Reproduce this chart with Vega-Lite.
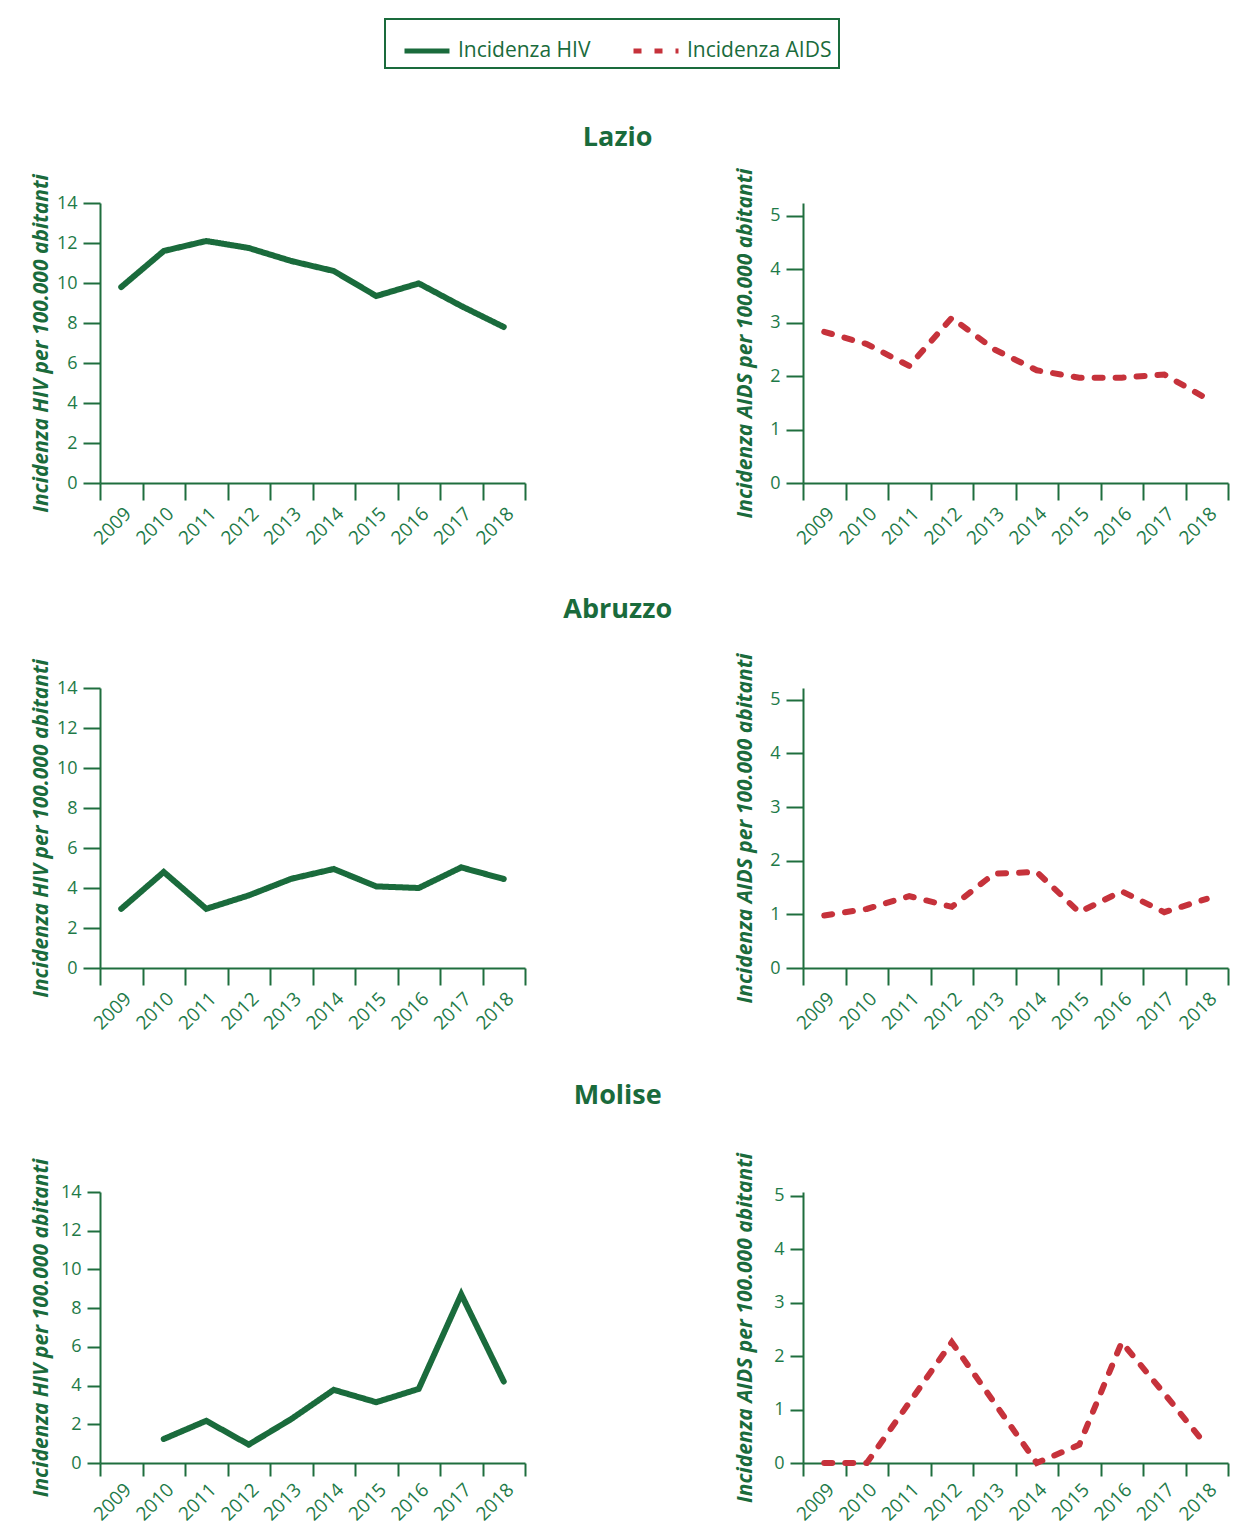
{
  "$schema": "https://vega.github.io/schema/vega-lite/v6.json",
  "background": "white",
  "padding": {"left": 30, "top": 18, "right": 10, "bottom": 4},
  "config": {
    "font": "Open Sans",
    "view": {"stroke": null},
    "axis": {
      "domainColor": "#1f6e3e",
      "domainWidth": 2,
      "tickColor": "#1f6e3e",
      "tickWidth": 2,
      "tickSize": 17,
      "labelColor": "#1e7a48",
      "labelFontSize": 18,
      "labelFont": "Open Sans",
      "titleColor": "#1a6b3c",
      "titleFont": "Open Sans",
      "titleFontSize": 21,
      "titleFontWeight": "bold",
      "titleFontStyle": "italic",
      "grid": false
    },
    "axisY": {"labelPadding": 6, "labelFontSize": 18},
    "axisX": {"labelPadding": 4, "labelFontSize": 19},
    "title": {"fontSize": 27, "fontWeight": "bold", "color": "#1a6b3c", "anchor": "middle", "font": "Open Sans", "dx": -12},
    "legend": {
      "strokeColor": "#1a6b3c",
      "strokeWidth": 2,
      "padding": 7,
      "labelFontSize": 21,
      "labelColor": "#1a6b3c",
      "labelFont": "Open Sans",
      "symbolType": "stroke",
      "symbolStrokeWidth": 5,
      "symbolSize": 2025,
      "symbolOffset": 10,
      "columnPadding": 30,
      "labelOffset": 6
    }
  },
  "data": {"values": [
    {"regione": "Lazio", "serie": "Incidenza HIV", "anno": 2009, "valore": 9.8},
    {"regione": "Lazio", "serie": "Incidenza HIV", "anno": 2010, "valore": 11.6},
    {"regione": "Lazio", "serie": "Incidenza HIV", "anno": 2011, "valore": 12.1},
    {"regione": "Lazio", "serie": "Incidenza HIV", "anno": 2012, "valore": 11.75},
    {"regione": "Lazio", "serie": "Incidenza HIV", "anno": 2013, "valore": 11.1},
    {"regione": "Lazio", "serie": "Incidenza HIV", "anno": 2014, "valore": 10.6},
    {"regione": "Lazio", "serie": "Incidenza HIV", "anno": 2015, "valore": 9.35},
    {"regione": "Lazio", "serie": "Incidenza HIV", "anno": 2016, "valore": 9.98},
    {"regione": "Lazio", "serie": "Incidenza HIV", "anno": 2017, "valore": 8.85},
    {"regione": "Lazio", "serie": "Incidenza HIV", "anno": 2018, "valore": 7.8},
    {"regione": "Lazio", "serie": "Incidenza AIDS", "anno": 2009, "valore": 2.83},
    {"regione": "Lazio", "serie": "Incidenza AIDS", "anno": 2010, "valore": 2.6},
    {"regione": "Lazio", "serie": "Incidenza AIDS", "anno": 2011, "valore": 2.19},
    {"regione": "Lazio", "serie": "Incidenza AIDS", "anno": 2012, "valore": 3.09},
    {"regione": "Lazio", "serie": "Incidenza AIDS", "anno": 2013, "valore": 2.5},
    {"regione": "Lazio", "serie": "Incidenza AIDS", "anno": 2014, "valore": 2.11},
    {"regione": "Lazio", "serie": "Incidenza AIDS", "anno": 2015, "valore": 1.97},
    {"regione": "Lazio", "serie": "Incidenza AIDS", "anno": 2016, "valore": 1.97},
    {"regione": "Lazio", "serie": "Incidenza AIDS", "anno": 2017, "valore": 2.03},
    {"regione": "Lazio", "serie": "Incidenza AIDS", "anno": 2018, "valore": 1.58},
    {"regione": "Abruzzo", "serie": "Incidenza HIV", "anno": 2009, "valore": 2.96},
    {"regione": "Abruzzo", "serie": "Incidenza HIV", "anno": 2010, "valore": 4.8},
    {"regione": "Abruzzo", "serie": "Incidenza HIV", "anno": 2011, "valore": 2.96},
    {"regione": "Abruzzo", "serie": "Incidenza HIV", "anno": 2012, "valore": 3.63},
    {"regione": "Abruzzo", "serie": "Incidenza HIV", "anno": 2013, "valore": 4.46},
    {"regione": "Abruzzo", "serie": "Incidenza HIV", "anno": 2014, "valore": 4.95},
    {"regione": "Abruzzo", "serie": "Incidenza HIV", "anno": 2015, "valore": 4.08},
    {"regione": "Abruzzo", "serie": "Incidenza HIV", "anno": 2016, "valore": 4.0},
    {"regione": "Abruzzo", "serie": "Incidenza HIV", "anno": 2017, "valore": 5.03},
    {"regione": "Abruzzo", "serie": "Incidenza HIV", "anno": 2018, "valore": 4.45},
    {"regione": "Abruzzo", "serie": "Incidenza AIDS", "anno": 2009, "valore": 0.98},
    {"regione": "Abruzzo", "serie": "Incidenza AIDS", "anno": 2010, "valore": 1.1},
    {"regione": "Abruzzo", "serie": "Incidenza AIDS", "anno": 2011, "valore": 1.34},
    {"regione": "Abruzzo", "serie": "Incidenza AIDS", "anno": 2012, "valore": 1.14},
    {"regione": "Abruzzo", "serie": "Incidenza AIDS", "anno": 2013, "valore": 1.76},
    {"regione": "Abruzzo", "serie": "Incidenza AIDS", "anno": 2014, "valore": 1.79},
    {"regione": "Abruzzo", "serie": "Incidenza AIDS", "anno": 2015, "valore": 1.04},
    {"regione": "Abruzzo", "serie": "Incidenza AIDS", "anno": 2016, "valore": 1.43},
    {"regione": "Abruzzo", "serie": "Incidenza AIDS", "anno": 2017, "valore": 1.04},
    {"regione": "Abruzzo", "serie": "Incidenza AIDS", "anno": 2018, "valore": 1.29},
    {"regione": "Molise", "serie": "Incidenza HIV", "anno": 2010, "valore": 1.24},
    {"regione": "Molise", "serie": "Incidenza HIV", "anno": 2011, "valore": 2.18},
    {"regione": "Molise", "serie": "Incidenza HIV", "anno": 2012, "valore": 0.95},
    {"regione": "Molise", "serie": "Incidenza HIV", "anno": 2013, "valore": 2.27},
    {"regione": "Molise", "serie": "Incidenza HIV", "anno": 2014, "valore": 3.78},
    {"regione": "Molise", "serie": "Incidenza HIV", "anno": 2015, "valore": 3.14},
    {"regione": "Molise", "serie": "Incidenza HIV", "anno": 2016, "valore": 3.83},
    {"regione": "Molise", "serie": "Incidenza HIV", "anno": 2017, "valore": 8.71},
    {"regione": "Molise", "serie": "Incidenza HIV", "anno": 2018, "valore": 4.21},
    {"regione": "Molise", "serie": "Incidenza AIDS", "anno": 2009, "valore": 0},
    {"regione": "Molise", "serie": "Incidenza AIDS", "anno": 2010, "valore": 0},
    {"regione": "Molise", "serie": "Incidenza AIDS", "anno": 2011, "valore": 1.13},
    {"regione": "Molise", "serie": "Incidenza AIDS", "anno": 2012, "valore": 2.26},
    {"regione": "Molise", "serie": "Incidenza AIDS", "anno": 2013, "valore": 1.13},
    {"regione": "Molise", "serie": "Incidenza AIDS", "anno": 2014, "valore": 0},
    {"regione": "Molise", "serie": "Incidenza AIDS", "anno": 2015, "valore": 0.34},
    {"regione": "Molise", "serie": "Incidenza AIDS", "anno": 2016, "valore": 2.26},
    {"regione": "Molise", "serie": "Incidenza AIDS", "anno": 2017, "valore": 1.3},
    {"regione": "Molise", "serie": "Incidenza AIDS", "anno": 2018, "valore": 0.32}
  ]},
  "spacing": 47,
  "vconcat": [
    {
      "title": {"text": "Lazio", "offset": 13},
      "spacing": 208,
      "hconcat": [
        {
          "width": 425, "height": 280,
          "transform": [{"filter": "datum.regione === 'Lazio' && datum.serie === 'Incidenza HIV'"}],
          "mark": {"type": "line", "strokeWidth": 6, "strokeCap": "round"},
          "encoding": {
            "x": {"field": "anno", "type": "ordinal", "bandPosition": 0.5, "scale": {"type": "band", "domain": [2009,2010,2011,2012,2013,2014,2015,2016,2017,2018], "paddingInner": 0, "paddingOuter": 0}, "axis": {"title": null, "labelAngle": -45, "tickBand": "extent"}},
            "y": {"field": "valore", "type": "quantitative", "scale": {"domain": [0, 14]}, "axis": {"values": [0,2,4,6,8,10,12,14], "title": "Incidenza  HIV per 100.000 abitanti", "titlePadding": 5}},
            "color": {"field": "serie", "type": "nominal", "scale": {"domain": ["Incidenza HIV", "Incidenza AIDS"], "range": ["#1a6b3c", "#c6323b"]}, "legend": {"title": null, "orient": "none", "direction": "horizontal", "legendX": 285, "legendY": -184}},
            "strokeDash": {"field": "serie", "type": "nominal", "scale": {"domain": ["Incidenza HIV", "Incidenza AIDS"], "range": [[1, 0], [8, 13]]}, "legend": {"title": null, "orient": "none", "direction": "horizontal", "legendX": 285, "legendY": -184}}
          }
        },
        {
          "width": 425, "height": 280,
          "transform": [{"filter": "datum.regione === 'Lazio' && datum.serie === 'Incidenza AIDS'"}],
          "mark": {"type": "line", "strokeWidth": 6, "strokeCap": "round"},
          "encoding": {
            "x": {"field": "anno", "type": "ordinal", "bandPosition": 0.5, "scale": {"type": "band", "domain": [2009,2010,2011,2012,2013,2014,2015,2016,2017,2018], "paddingInner": 0, "paddingOuter": 0}, "axis": {"title": null, "labelAngle": -45, "tickBand": "extent"}},
            "y": {"field": "valore", "type": "quantitative", "scale": {"domain": [0, 5.24]}, "axis": {"values": [0,1,2,3,4,5], "title": "Incidenza  AIDS per 100.000 abitanti", "titlePadding": 14}},
            "color": {"field": "serie", "type": "nominal"},
            "strokeDash": {"field": "serie", "type": "nominal"}
          }
        }
      ]
    },
    {
      "title": {"text": "Abruzzo", "offset": 26},
      "spacing": 208,
      "hconcat": [
        {
          "width": 425, "height": 280,
          "transform": [{"filter": "datum.regione === 'Abruzzo' && datum.serie === 'Incidenza HIV'"}],
          "mark": {"type": "line", "strokeWidth": 6, "strokeCap": "round"},
          "encoding": {
            "x": {"field": "anno", "type": "ordinal", "bandPosition": 0.5, "scale": {"type": "band", "domain": [2009,2010,2011,2012,2013,2014,2015,2016,2017,2018], "paddingInner": 0, "paddingOuter": 0}, "axis": {"title": null, "labelAngle": -45, "tickBand": "extent"}},
            "y": {"field": "valore", "type": "quantitative", "scale": {"domain": [0, 14]}, "axis": {"values": [0,2,4,6,8,10,12,14], "title": "Incidenza  HIV per 100.000 abitanti", "titlePadding": 5}},
            "color": {"field": "serie", "type": "nominal"},
            "strokeDash": {"field": "serie", "type": "nominal"}
          }
        },
        {
          "width": 425, "height": 280,
          "transform": [{"filter": "datum.regione === 'Abruzzo' && datum.serie === 'Incidenza AIDS'"}],
          "mark": {"type": "line", "strokeWidth": 6, "strokeCap": "round"},
          "encoding": {
            "x": {"field": "anno", "type": "ordinal", "bandPosition": 0.5, "scale": {"type": "band", "domain": [2009,2010,2011,2012,2013,2014,2015,2016,2017,2018], "paddingInner": 0, "paddingOuter": 0}, "axis": {"title": null, "labelAngle": -45, "tickBand": "extent"}},
            "y": {"field": "valore", "type": "quantitative", "scale": {"domain": [0, 5.22]}, "axis": {"values": [0,1,2,3,4,5], "title": "Incidenza  AIDS per 100.000 abitanti", "titlePadding": 14}},
            "color": {"field": "serie", "type": "nominal"},
            "strokeDash": {"field": "serie", "type": "nominal"}
          }
        }
      ]
    },
    {
      "title": {"text": "Molise", "offset": 40},
      "spacing": 208,
      "hconcat": [
        {
          "width": 425, "height": 271,
          "transform": [{"filter": "datum.regione === 'Molise' && datum.serie === 'Incidenza HIV'"}],
          "mark": {"type": "line", "strokeWidth": 6, "strokeCap": "round"},
          "encoding": {
            "x": {"field": "anno", "type": "ordinal", "bandPosition": 0.5, "scale": {"type": "band", "domain": [2009,2010,2011,2012,2013,2014,2015,2016,2017,2018], "paddingInner": 0, "paddingOuter": 0}, "axis": {"title": null, "labelAngle": -45, "tickBand": "extent", "tickSize": 13}},
            "y": {"field": "valore", "type": "quantitative", "scale": {"domain": [0, 14]}, "axis": {"values": [0,2,4,6,8,10,12,14], "title": "Incidenza  HIV per 100.000 abitanti", "titlePadding": 9, "tickSize": 13}},
            "color": {"field": "serie", "type": "nominal"},
            "strokeDash": {"field": "serie", "type": "nominal"}
          }
        },
        {
          "width": 425, "height": 271,
          "transform": [{"filter": "datum.regione === 'Molise' && datum.serie === 'Incidenza AIDS'"}],
          "mark": {"type": "line", "strokeWidth": 6, "strokeCap": "round"},
          "encoding": {
            "x": {"field": "anno", "type": "ordinal", "bandPosition": 0.5, "scale": {"type": "band", "domain": [2009,2010,2011,2012,2013,2014,2015,2016,2017,2018], "paddingInner": 0, "paddingOuter": 0}, "axis": {"title": null, "labelAngle": -45, "tickBand": "extent", "tickSize": 13}},
            "y": {"field": "valore", "type": "quantitative", "scale": {"domain": [0, 5.07]}, "axis": {"values": [0,1,2,3,4,5], "title": "Incidenza  AIDS per 100.000 abitanti", "titlePadding": 18, "tickSize": 13}},
            "color": {"field": "serie", "type": "nominal"},
            "strokeDash": {"field": "serie", "type": "nominal"}
          }
        }
      ]
    }
  ],
  "resolve": {"scale": {"color": "shared", "strokeDash": "shared", "x": "independent", "y": "independent"}}
}
